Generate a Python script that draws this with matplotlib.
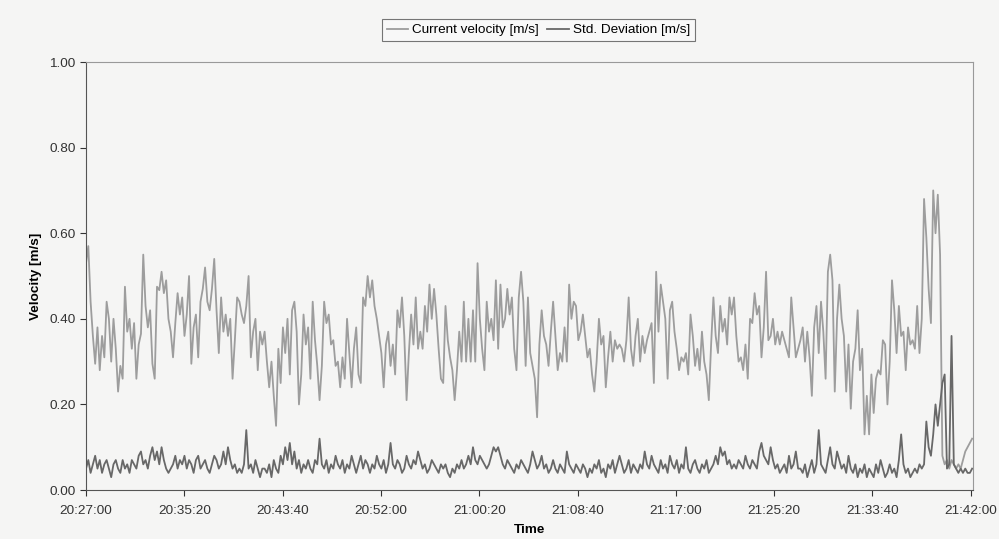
import numpy as np
import matplotlib
matplotlib.use("Agg")
import matplotlib.pyplot as plt
from matplotlib.ticker import FuncFormatter, MultipleLocator

plt.rcParams['font.family'] = ['Liberation Sans', 'DejaVu Sans']

# current velocity [m/s] left to right
vel_a = [0.53, 0.57, 0.44, 0.36, 0.295, 0.38, 0.28, 0.36, 0.31, 0.44,
         0.40, 0.30, 0.40, 0.33, 0.23, 0.29, 0.26, 0.475, 0.37, 0.40,
         0.33, 0.39, 0.26, 0.34, 0.365, 0.55, 0.43, 0.38, 0.42, 0.295,
         0.26, 0.475, 0.467, 0.51, 0.46, 0.49, 0.40, 0.37, 0.31, 0.39,
         0.46, 0.41, 0.45, 0.36, 0.41, 0.50, 0.295, 0.38, 0.41, 0.31,
         0.44, 0.47, 0.52, 0.44, 0.42, 0.47, 0.54, 0.42, 0.32, 0.45,
         0.37, 0.41, 0.36, 0.40, 0.26, 0.35, 0.45, 0.44, 0.41, 0.39,
         0.43, 0.50, 0.31, 0.37, 0.40, 0.28, 0.37, 0.34]
vel_b = [0.37, 0.30, 0.24, 0.30, 0.22, 0.15, 0.33, 0.25, 0.38, 0.32,
         0.40, 0.27, 0.42, 0.44, 0.37, 0.20, 0.27, 0.41, 0.34, 0.38,
         0.26, 0.44, 0.35, 0.29, 0.21, 0.29, 0.44, 0.39, 0.41, 0.34,
         0.35, 0.29, 0.30, 0.24, 0.31, 0.26, 0.40, 0.32, 0.24, 0.33,
         0.38, 0.27, 0.25, 0.45, 0.43, 0.50, 0.45, 0.49, 0.43, 0.40,
         0.36, 0.32, 0.24, 0.34, 0.37, 0.29, 0.34, 0.27, 0.42, 0.38,
         0.45, 0.36, 0.21, 0.32, 0.41, 0.34, 0.45, 0.33, 0.37, 0.33,
         0.43, 0.37, 0.48, 0.40, 0.47, 0.41, 0.33, 0.26]
vel_c = [0.25, 0.43, 0.35, 0.31, 0.28, 0.21, 0.28, 0.37, 0.30, 0.44,
         0.30, 0.40, 0.30, 0.42, 0.30, 0.53, 0.40, 0.33, 0.28, 0.44,
         0.37, 0.40, 0.35, 0.49, 0.33, 0.48, 0.38, 0.40, 0.47, 0.41,
         0.45, 0.33, 0.28, 0.45, 0.51, 0.44, 0.29, 0.45, 0.32, 0.29,
         0.26, 0.17, 0.34, 0.42, 0.36, 0.34, 0.29, 0.37, 0.44, 0.36,
         0.28, 0.32, 0.30, 0.38, 0.30, 0.48, 0.40, 0.44, 0.43, 0.35,
         0.37, 0.41, 0.36, 0.31, 0.33, 0.27, 0.23, 0.30, 0.40, 0.34,
         0.36, 0.24, 0.31, 0.37, 0.30, 0.35, 0.33, 0.34]
vel_d = [0.33, 0.30, 0.35, 0.45, 0.33, 0.29, 0.36, 0.40, 0.30, 0.36,
         0.32, 0.35, 0.37, 0.39, 0.25, 0.51, 0.37, 0.48, 0.44, 0.40,
         0.26, 0.42, 0.44, 0.37, 0.33, 0.28, 0.31, 0.30, 0.32, 0.27,
         0.41, 0.36, 0.29, 0.33, 0.28, 0.37, 0.30, 0.27, 0.21, 0.34,
         0.45, 0.36, 0.32, 0.43, 0.37, 0.40, 0.34, 0.45, 0.41, 0.45,
         0.36, 0.30, 0.31, 0.28, 0.34, 0.26, 0.40, 0.39, 0.46, 0.41,
         0.43, 0.31, 0.38, 0.51, 0.35, 0.36, 0.40, 0.34, 0.37, 0.34,
         0.37, 0.35, 0.33, 0.31, 0.45, 0.38, 0.31, 0.33]
vel_e = [0.35, 0.38, 0.30, 0.37, 0.31, 0.22, 0.38, 0.43, 0.32, 0.44,
         0.37, 0.26, 0.51, 0.55, 0.49, 0.23, 0.40, 0.48, 0.40, 0.36,
         0.23, 0.34, 0.19, 0.30, 0.33, 0.42, 0.28, 0.33, 0.13, 0.22,
         0.13, 0.27, 0.18, 0.26, 0.28, 0.27, 0.35, 0.34, 0.20, 0.30,
         0.49, 0.42, 0.32, 0.43, 0.36, 0.37, 0.28, 0.38, 0.34, 0.35,
         0.33, 0.43, 0.32, 0.40, 0.68, 0.59, 0.47, 0.39, 0.70, 0.60,
         0.69, 0.55, 0.08, 0.06, 0.07, 0.05, 0.07, 0.06, 0.05, 0.06,
         0.05, 0.07, 0.09, 0.10, 0.11, 0.12]

# std. deviation [m/s]
std_a = [0.05, 0.07, 0.04, 0.06, 0.08, 0.05, 0.07, 0.04, 0.06, 0.07,
         0.05, 0.03, 0.06, 0.07, 0.05, 0.04, 0.07, 0.05, 0.06, 0.04,
         0.07, 0.06, 0.05, 0.08, 0.09, 0.06, 0.07, 0.05, 0.08, 0.10,
         0.07, 0.09, 0.06, 0.10, 0.07, 0.05, 0.04, 0.05, 0.06, 0.08,
         0.05, 0.07, 0.06, 0.08, 0.05, 0.07, 0.06, 0.04, 0.07, 0.08,
         0.05, 0.06, 0.07, 0.05, 0.04, 0.06, 0.08, 0.07, 0.05, 0.06,
         0.09, 0.06, 0.10, 0.07, 0.05, 0.06, 0.04, 0.05, 0.04, 0.06,
         0.14, 0.05, 0.06, 0.04, 0.07, 0.05, 0.03, 0.05]
std_b = [0.05, 0.04, 0.06, 0.03, 0.07, 0.05, 0.04, 0.08, 0.06, 0.10,
         0.07, 0.11, 0.06, 0.09, 0.05, 0.07, 0.04, 0.06, 0.05, 0.07,
         0.05, 0.04, 0.07, 0.06, 0.12, 0.06, 0.05, 0.07, 0.04, 0.06,
         0.05, 0.08, 0.06, 0.05, 0.07, 0.04, 0.06, 0.05, 0.08, 0.06,
         0.04, 0.06, 0.08, 0.05, 0.07, 0.06, 0.04, 0.06, 0.05, 0.08,
         0.06, 0.05, 0.07, 0.04, 0.06, 0.11, 0.06, 0.05, 0.07, 0.06,
         0.04, 0.05, 0.08, 0.06, 0.05, 0.07, 0.06, 0.09, 0.07, 0.05,
         0.06, 0.04, 0.05, 0.07, 0.06, 0.05, 0.04, 0.06]
std_c = [0.05, 0.06, 0.04, 0.03, 0.05, 0.04, 0.06, 0.05, 0.07, 0.05,
         0.06, 0.08, 0.06, 0.10, 0.07, 0.06, 0.08, 0.07, 0.06, 0.05,
         0.06, 0.08, 0.10, 0.09, 0.10, 0.08, 0.06, 0.05, 0.07, 0.06,
         0.05, 0.04, 0.06, 0.05, 0.07, 0.06, 0.05, 0.04, 0.06, 0.09,
         0.07, 0.05, 0.06, 0.08, 0.05, 0.06, 0.04, 0.05, 0.07, 0.05,
         0.04, 0.06, 0.05, 0.04, 0.09, 0.06, 0.05, 0.04, 0.06, 0.05,
         0.04, 0.06, 0.05, 0.03, 0.05, 0.04, 0.06, 0.05, 0.07, 0.04,
         0.05, 0.03, 0.06, 0.05, 0.07, 0.04, 0.06, 0.08]
std_d = [0.06, 0.04, 0.05, 0.07, 0.04, 0.06, 0.05, 0.04, 0.06, 0.05,
         0.09, 0.06, 0.05, 0.08, 0.06, 0.05, 0.04, 0.07, 0.05, 0.06,
         0.04, 0.08, 0.06, 0.05, 0.07, 0.04, 0.06, 0.05, 0.10, 0.05,
         0.04, 0.06, 0.07, 0.05, 0.04, 0.06, 0.05, 0.07, 0.04, 0.05,
         0.06, 0.08, 0.06, 0.10, 0.08, 0.09, 0.06, 0.07, 0.05, 0.06,
         0.05, 0.07, 0.06, 0.05, 0.08, 0.06, 0.05, 0.07, 0.06, 0.05,
         0.09, 0.11, 0.08, 0.07, 0.06, 0.10, 0.07, 0.05, 0.06, 0.04,
         0.05, 0.06, 0.04, 0.08, 0.05, 0.06, 0.09, 0.05]
std_e = [0.05, 0.04, 0.06, 0.03, 0.05, 0.07, 0.04, 0.06, 0.14, 0.06,
         0.05, 0.04, 0.07, 0.10, 0.06, 0.05, 0.09, 0.07, 0.05, 0.06,
         0.04, 0.08, 0.05, 0.04, 0.06, 0.03, 0.05, 0.04, 0.06, 0.03,
         0.05, 0.04, 0.03, 0.06, 0.04, 0.07, 0.05, 0.03, 0.04, 0.06,
         0.04, 0.05, 0.03, 0.07, 0.13, 0.06, 0.04, 0.05, 0.03, 0.04,
         0.05, 0.04, 0.06, 0.05, 0.06, 0.16, 0.10, 0.08, 0.13, 0.20,
         0.15, 0.20, 0.25, 0.27, 0.05, 0.06, 0.36, 0.06, 0.05, 0.04,
         0.05, 0.04, 0.05, 0.04, 0.04, 0.05]

velocity = vel_a + vel_b + vel_c + vel_d + vel_e
std_dev = std_a + std_b + std_c + std_d + std_e

# seconds after 20:27:00, last sample just past 21:42:00
t = np.linspace(0, 4507, len(velocity))
start = 20 * 3600 + 27 * 60


def hms(x, pos):
    s = int(round(start + x))
    return "%02d:%02d:%02d" % (s // 3600, (s // 60) % 60, s % 60)


bg = '#f5f5f4'
fig = plt.figure(figsize=(9.99, 5.39), dpi=100, facecolor=bg)
ax = fig.add_axes([0.0861, 0.0909, 0.888, 0.794], facecolor=bg)

ax.plot(t, velocity, color='#9d9d9d', lw=1.3, label='Current velocity [m/s]')
ax.plot(t, std_dev, color='#686868', lw=1.3, label='Std. Deviation [m/s]')

ax.set_xlim(0, 4512)
ax.set_ylim(0, 1.0)
ax.xaxis.set_major_locator(MultipleLocator(500))
ax.xaxis.set_major_formatter(FuncFormatter(hms))
ax.yaxis.set_major_locator(MultipleLocator(0.2))
ax.yaxis.set_major_formatter(FuncFormatter(lambda v, p: "%.2f" % v))
ax.tick_params(labelsize=9.7, colors='#333333', length=4, width=0.8)
ax.tick_params(axis='x', pad=7)

for side in ['left', 'bottom']:
    ax.spines[side].set_color('#555555')
for side in ['top', 'right']:
    ax.spines[side].set_color('#999999')

ax.set_xlabel('Time', fontsize=9.7, fontweight='bold', labelpad=5)
ax.set_ylabel('Velocity [m/s]', fontsize=9.7, fontweight='bold', labelpad=5)

leg = fig.legend(loc='center', bbox_to_anchor=(0.539, 0.944), ncol=2,
                 fontsize=9.7, frameon=True, fancybox=False, handlelength=1.6,
                 handletextpad=0.3, columnspacing=0.6, borderpad=0.35)
leg.get_frame().set_edgecolor('#555555')
leg.get_frame().set_facecolor('#fafafa')
leg.get_frame().set_linewidth(0.8)

fig.savefig('out.png', dpi=100, facecolor=bg)
